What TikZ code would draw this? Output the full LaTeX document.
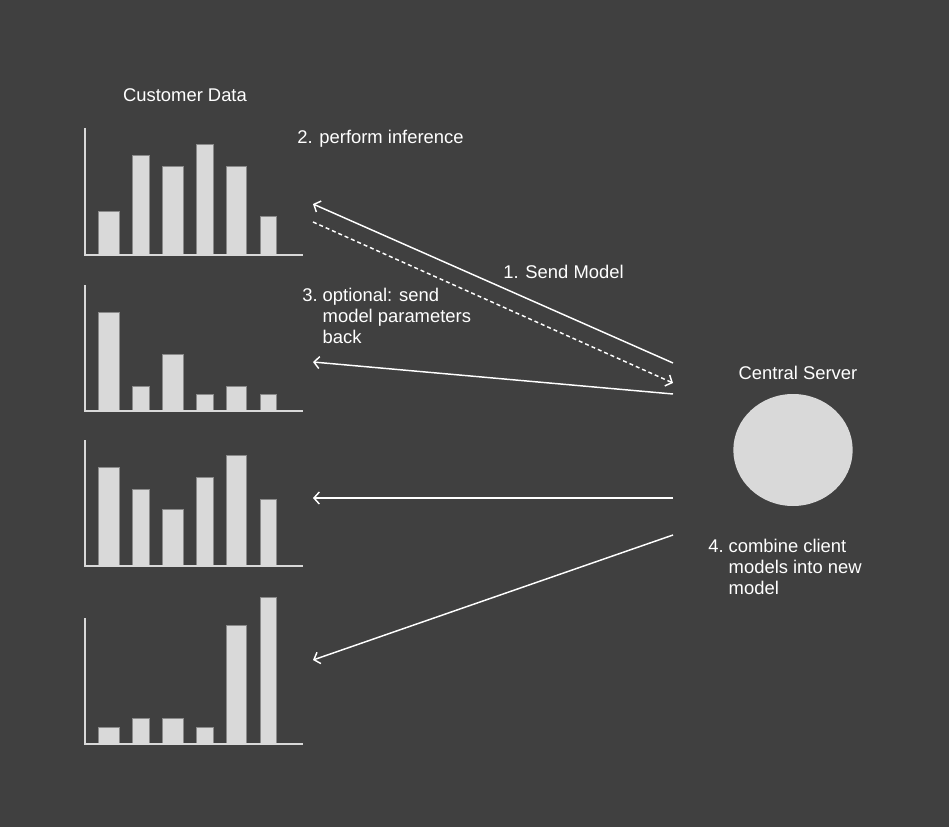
\documentclass[tikz,border=0pt]{standalone}
\usepackage{fontspec}
\setmainfont{Liberation Sans}
\usetikzlibrary{arrows.meta,shapes.geometric}
\definecolor{BgGray}  {RGB}{64,  64,  64}
\definecolor{BarGray} {RGB}{217, 217, 217}
\definecolor{EdgeGray}{RGB}{138, 138, 138}

\tikzset{
  caption/.style={text=white, font=\fontsize{13.8}{15.75}\selectfont, inner sep=0pt},
  flow/.style={white, line width=1.1pt, -{Straight Barb[length=4pt,width=9pt]}},
  bar/.style={fill=BarGray, draw=EdgeGray, line width=0.6pt},
  axis/.style={BarGray, line width=1pt},
}

\begin{document}
\begin{tikzpicture}[x=0.75pt, y=-0.75pt]
  \fill[BgGray] (0,0) rectangle (949,827);
  \useasboundingbox (0,0) rectangle (949,827);

  % customer charts
  \foreach \xl/\xr/\yt in {98/119/211, 132/149/155, 162/183/166, 196/213/144, 226/246/166, 260/276/216}
    \draw[bar] (\xl,255) rectangle (\xr,\yt);
  \draw[axis] (85,128) -- (85,255) -- (303,255);

  \foreach \xl/\xr/\yt in {98/119/312, 132/149/386, 162/183/354, 196/213/394, 226/246/386, 260/276/394}
    \draw[bar] (\xl,411) rectangle (\xr,\yt);
  \draw[axis] (85,285) -- (85,411) -- (303,411);

  \foreach \xl/\xr/\yt in {98/119/467, 132/149/489, 162/183/509, 196/213/477, 226/246/455, 260/276/499}
    \draw[bar] (\xl,566) rectangle (\xr,\yt);
  \draw[axis] (85,440) -- (85,566) -- (303,566);

  \foreach \xl/\xr/\yt in {98/119/727, 132/149/718, 162/183/718, 196/213/727, 226/246/625, 260/276/597}
    \draw[bar] (\xl,744) rectangle (\xr,\yt);
  \draw[axis] (85,618) -- (85,744) -- (303,744);

  \node[caption, anchor=base] (customers) at (185,102) {Customer Data};

  % server
  \node[ellipse, fill=BarGray, minimum width=89.5pt, minimum height=84pt, inner sep=0pt] (server) at (793,450) {};
  \node[caption, anchor=base] (serverlbl) at (798,379) {Central Server};

  % arrow ends
  \coordinate (srv1) at (673,363);  \coordinate (cli1) at (313,204);
  \coordinate (cli1b) at (313,222); \coordinate (srv1b) at (673,383);
  \coordinate (srv2) at (673,394);  \coordinate (cli2) at (313,362);
  \coordinate (srv3) at (673,498);  \coordinate (cli3) at (313,498);
  \coordinate (srv4) at (673,535);  \coordinate (cli4) at (313,660);

  \draw[flow] (srv1) -- (cli1);
  \draw[flow, dash pattern=on 3pt off 2.2pt] (cli1b) -- (srv1b);
  \draw[flow] (srv2) -- (cli2);
  \draw[flow] (srv3) -- (cli3);
  \draw[flow] (srv4) -- (cli4);

  % step labels
  \node[caption, anchor=base west] (infer) at (297,144) {2. perform inference};
  \node[caption, anchor=base west] (sendlbl) at (503,278) {1. Send Model};
  \node[caption, anchor=base west] (backlbl) at (302,301)
    {\begin{tabular}[t]{@{}l@{\ }l@{}}3.& optional: send\\ & model parameters\\ & back\end{tabular}};
  \node[caption, anchor=base west] (combine) at (708,552)
    {\begin{tabular}[t]{@{}l@{\ }l@{}}4.& combine client\\ & models into new\\ & model\end{tabular}};
\end{tikzpicture}
\end{document}
